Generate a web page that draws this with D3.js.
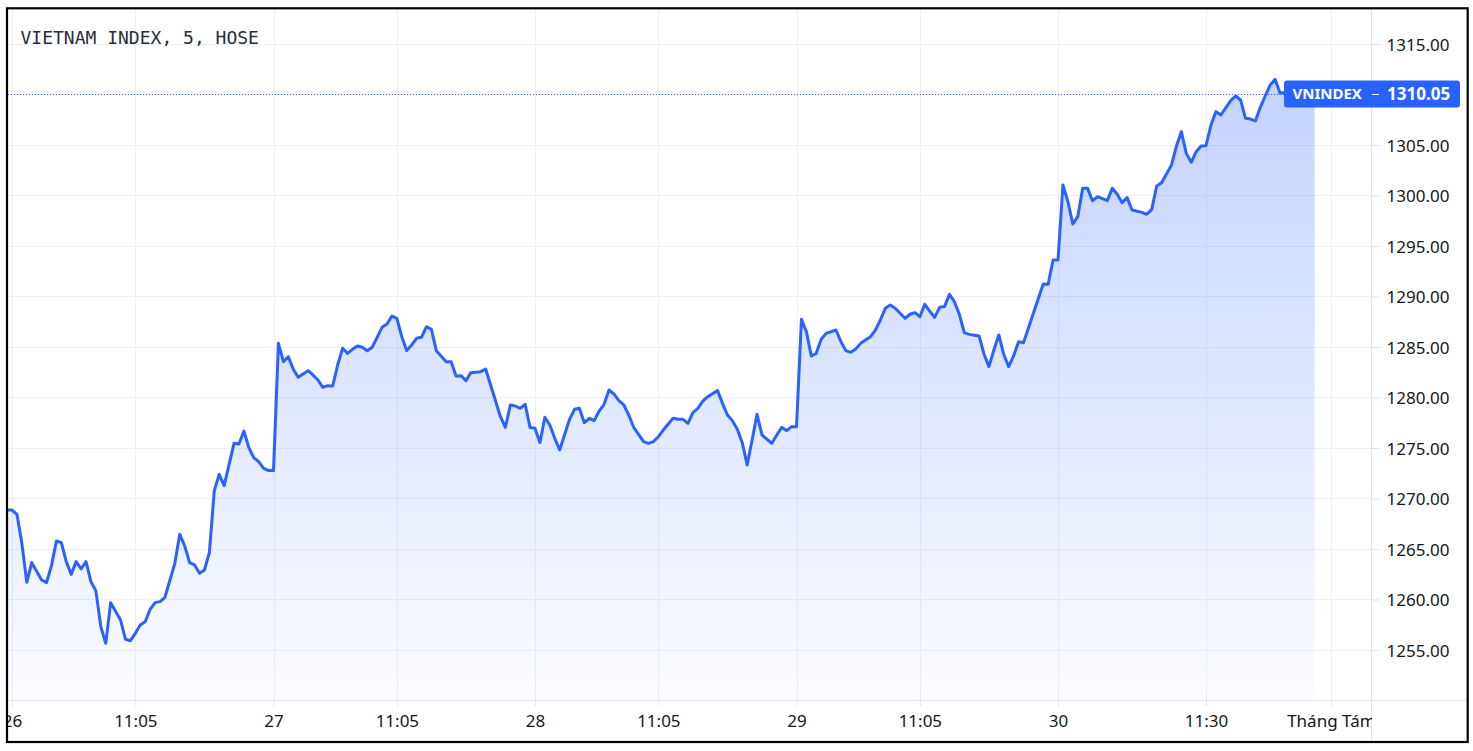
<!DOCTYPE html>
<html><head><meta charset="utf-8">
<script src="https://cdn.jsdelivr.net/npm/d3@7"></script>
<style>html,body{margin:0;padding:0;background:#fff;} svg{display:block}</style>
</head><body><svg id="c" width="1473" height="751"></svg>
<script>
const title = "VIETNAM INDEX, 5, HOSE";
const symbol = "VNINDEX";
const lastValue = 1310.05;

// 5-minute bars (index counts bars from the last bar of the 25th)
const barIndex = [0,1,2,3,4,5,7,8,9,10,11,12,13,14,15,16,17,18,19,20,21,23,24,25,26,27,28,29,30,31,32,34,35,36,37,38,39,40,41,42,43,44,46,47,48,49,50,51,52,53,
54,55,56,57,58,59,61,62,63,64,65,66,67,68,69,70,71,72,73,74,76,77,78,79,80,81,82,83,84,85,86,87,89,90,91,92,93,94,95,96,97,98,100,101,102,103,104,105,106,
107,108,109,110,111,112,114,115,116,117,118,119,120,121,122,123,124,125,126,127,129,130,131,132,133,134,135,136,137,138,139,140,141,142,144,145,146,147,148,149,150,151,152,153,155,156,157,158,159,
160,161,162,163,164,165,166,168,169,170,171,172,173,174,175,176,177,178,179,180,182,183,184,185,186,187,188,189,190,191,192,193,194,195,197,198,199,200,201,202,203,204,205,206,210,211,212,
213,214,215,216,217,218,219,220,221,223,224,225,226,227,228,230,231,232,233,234,236,237,238,239,240,241,242,243,244,245,246,248,249,250,251,252,253,254,255,256,257,258,259,260,261,262,263,264,265];
const closeValue = [1268.86,1268.86,1268.43,1265.56,1261.70,1263.65,1261.93,1261.67,1263.35,1265.79,1265.63,1263.75,1262.49,1263.75,1263.02,1263.75,1261.77,1260.87,1257.31,1255.66,1259.69,1257.97,1256.06,1255.92,1256.65,1257.48,1257.81,1259.03,1259.69,1259.79,1260.22,1263.58,1266.45,1265.30,1263.65,1263.42,1262.59,1262.92,1264.64,1270.78,1272.39,1271.27,1275.46,1275.40,1276.68,1275.03,1274.04,1273.65,1272.99,1272.76,
1272.76,1285.36,1283.55,1284.04,1282.79,1282.00,1282.66,1282.23,1281.73,1281.01,1281.17,1281.14,1283.22,1284.87,1284.37,1284.77,1285.10,1284.97,1284.64,1284.97,1286.95,1287.28,1288.07,1287.84,1286.02,1284.64,1285.20,1285.86,1285.96,1287.01,1286.75,1284.64,1283.55,1283.55,1282.13,1282.16,1281.67,1282.46,1282.49,1282.56,1282.82,1281.24,1278.10,1277.05,1279.26,1279.16,1278.93,1279.33,1277.02,
1276.95,1275.53,1278.04,1277.28,1275.96,1274.80,1277.84,1278.83,1278.93,1277.51,1277.94,1277.71,1278.66,1279.33,1280.74,1280.35,1279.69,1279.26,1278.27,1277.05,1275.63,1275.46,1275.63,1276.12,1276.78,1277.38,1277.94,1277.84,1277.84,1277.44,1278.50,1278.93,1279.65,1280.08,1280.68,1279.42,1278.27,1277.71,1276.85,1275.53,1273.32,1275.79,1278.33,1276.29,1275.46,1276.29,1277.05,1276.72,1277.11,
1277.11,1287.74,1286.52,1284.11,1284.37,1285.76,1286.35,1286.68,1285.53,1284.64,1284.47,1284.80,1285.36,1285.69,1286.02,1286.68,1287.67,1288.83,1289.16,1288.83,1287.84,1288.24,1288.40,1288.00,1289.23,1288.56,1287.94,1288.93,1289.00,1290.22,1289.49,1288.24,1286.42,1286.25,1286.09,1284.31,1283.05,1284.70,1286.19,1284.28,1283.05,1284.11,1285.53,1285.43,1291.24,1291.21,1293.61,
1293.61,1301.04,1299.39,1297.18,1297.90,1300.71,1300.71,1299.46,1299.88,1299.49,1300.71,1300.12,1299.29,1299.79,1298.56,1298.33,1298.14,1298.63,1300.94,1301.27,1303.02,1304.90,1306.32,1304.17,1303.29,1304.34,1304.90,1304.93,1306.98,1308.30,1307.97,1309.39,1309.85,1309.46,1307.64,1307.57,1307.38,1308.73,1309.85,1310.94,1311.50,1310.12,1310.20,1310.35,1310.25,1310.10,1310.15,1310.20,1310.05];

const priceTicks = [1255,1260,1265,1270,1275,1280,1285,1290,1295,1300,1305,1310,1315];
const timeTickIndex = [1,26,54,79,107,132,160,185,213,243,268.3];
const timeTickLabel = ["26","11:05","27","11:05","28","11:05","29","11:05","30","11:30","Tháng Tám"];

const data = barIndex.map((g,i)=>({g, v: closeValue[i]}));

const svg = d3.select("#c");
const L = 8, R = 1372, T = 9, B = 700;
const blue = "#2962ff", txt = "#131722", grid = "#eef0f3";

const x = d3.scaleLinear().domain([0, 265]).range([7.07, 7.07 + 265*4.934]);
const y = d3.scaleLinear().domain([1255, 1315]).range([650, 44]);

const defs = svg.append("defs");
defs.append("clipPath").attr("id","plotClip").append("rect")
  .attr("x",L).attr("y",T).attr("width",R-L).attr("height",B-T);
defs.append("clipPath").attr("id","timeClip").append("rect")
  .attr("x",L).attr("y",B).attr("width",R-L).attr("height",42);
const grad = defs.append("linearGradient").attr("id","areaGrad")
  .attr("gradientUnits","userSpaceOnUse")
  .attr("x1",0).attr("x2",0).attr("y1", y(d3.max(closeValue))).attr("y2", B);
grad.append("stop").attr("offset",0).attr("stop-color",blue).attr("stop-opacity",0.28);
grad.append("stop").attr("offset",1).attr("stop-color",blue).attr("stop-opacity",0.02);

// grid
const gGrid = svg.append("g");
gGrid.selectAll("line.h").data(priceTicks).join("line")
  .attr("x1",L).attr("x2",R).attr("y1",d=>y(d)).attr("y2",d=>y(d))
  .attr("stroke",grid).attr("stroke-width",1).attr("shape-rendering","crispEdges");
gGrid.selectAll("line.v").data(timeTickIndex).join("line")
  .attr("x1",d=>Math.round(x(d))+0.5).attr("x2",d=>Math.round(x(d))+0.5).attr("y1",T).attr("y2",B)
  .attr("stroke",grid).attr("stroke-width",1);

// area + line
const plot = svg.append("g").attr("clip-path","url(#plotClip)");
plot.append("path").datum(data)
  .attr("d", d3.area().x(d=>x(d.g)).y0(B).y1(d=>y(d.v)))
  .attr("fill","url(#areaGrad)");
plot.append("path").datum(data)
  .attr("d", d3.line().x(d=>x(d.g)).y(d=>y(d.v)))
  .attr("fill","none").attr("stroke",blue).attr("stroke-width",3)
  .attr("stroke-linejoin","round").attr("stroke-linecap","round");

// last value dotted line
plot.append("line").attr("x1",L).attr("x2",R)
  .attr("y1",Math.round(y(lastValue))+0.5).attr("y2",Math.round(y(lastValue))+0.5)
  .attr("stroke",blue).attr("stroke-width",1).attr("stroke-dasharray","1,2");

// axes lines
svg.append("line").attr("x1",L).attr("x2",1467).attr("y1",B+0.5).attr("y2",B+0.5)
  .attr("stroke","#e0e3eb").attr("stroke-width",1);
svg.append("line").attr("x1",R-0.5).attr("x2",R-0.5).attr("y1",T).attr("y2",742)
  .attr("stroke","#e0e3eb").attr("stroke-width",1);

// price axis
const yAxis = svg.append("g").attr("transform",`translate(${R-0.5},0)`)
  .call(d3.axisRight(y).tickValues(priceTicks).tickSize(8).tickPadding(7).tickFormat(d3.format(".2f")));
yAxis.select(".domain").remove();
yAxis.selectAll(".tick line").attr("stroke","#e0e3eb");
yAxis.selectAll(".tick text").attr("fill",txt).attr("font-family","'Noto Sans', sans-serif")
  .attr("font-size",17).attr("dy","0.36em");

// time axis (clipped to the plot width)
const xAxisWrap = svg.append("g").attr("clip-path","url(#timeClip)");
const xAxis = xAxisWrap.append("g").attr("transform",`translate(0,${B})`);
xAxis.call(d3.axisBottom(x).tickValues(timeTickIndex).tickSize(6).tickPadding(9)
  .tickFormat((d,i)=>timeTickLabel[i]));
xAxis.select(".domain").remove();
xAxis.selectAll(".tick line").attr("stroke","#e0e3eb");
xAxis.selectAll(".tick text").attr("fill",txt).attr("font-family","'Noto Sans', sans-serif")
  .attr("font-size",17).attr("dy","0.72em");

// title
svg.append("text").attr("x",20.5).attr("y",44).text(title)
  .attr("font-family","'DejaVu Sans Mono', monospace").attr("font-size",18).attr("fill","#2a2e39");

// last value label
const ly = y(lastValue);
const lab = svg.append("g");
lab.append("rect").attr("x",1284).attr("y",ly-13.5).attr("width",176).attr("height",27)
  .attr("rx",3).attr("fill",blue);
lab.append("line").attr("x1",R).attr("x2",R+7).attr("y1",Math.round(ly)+0.5).attr("y2",Math.round(ly)+0.5)
  .attr("stroke","#fff").attr("stroke-width",1);
lab.append("text").attr("x",1292.5).attr("y",ly).attr("dy","0.36em").text(symbol)
  .attr("font-family","'Noto Sans', sans-serif").attr("font-size",15).attr("font-weight","bold").attr("fill","#fff");
lab.append("text").attr("x",1387).attr("y",ly).attr("dy","0.36em").text(d3.format(".2f")(lastValue))
  .attr("font-family","'Noto Sans', sans-serif").attr("font-size",17).attr("font-weight","bold").attr("fill","#fff");

// frame
svg.append("rect").attr("x",7).attr("y",8.3).attr("width",1460.7).attr("height",733.7)
  .attr("fill","none").attr("stroke","#000").attr("stroke-width",2.2);
</script></body></html>
